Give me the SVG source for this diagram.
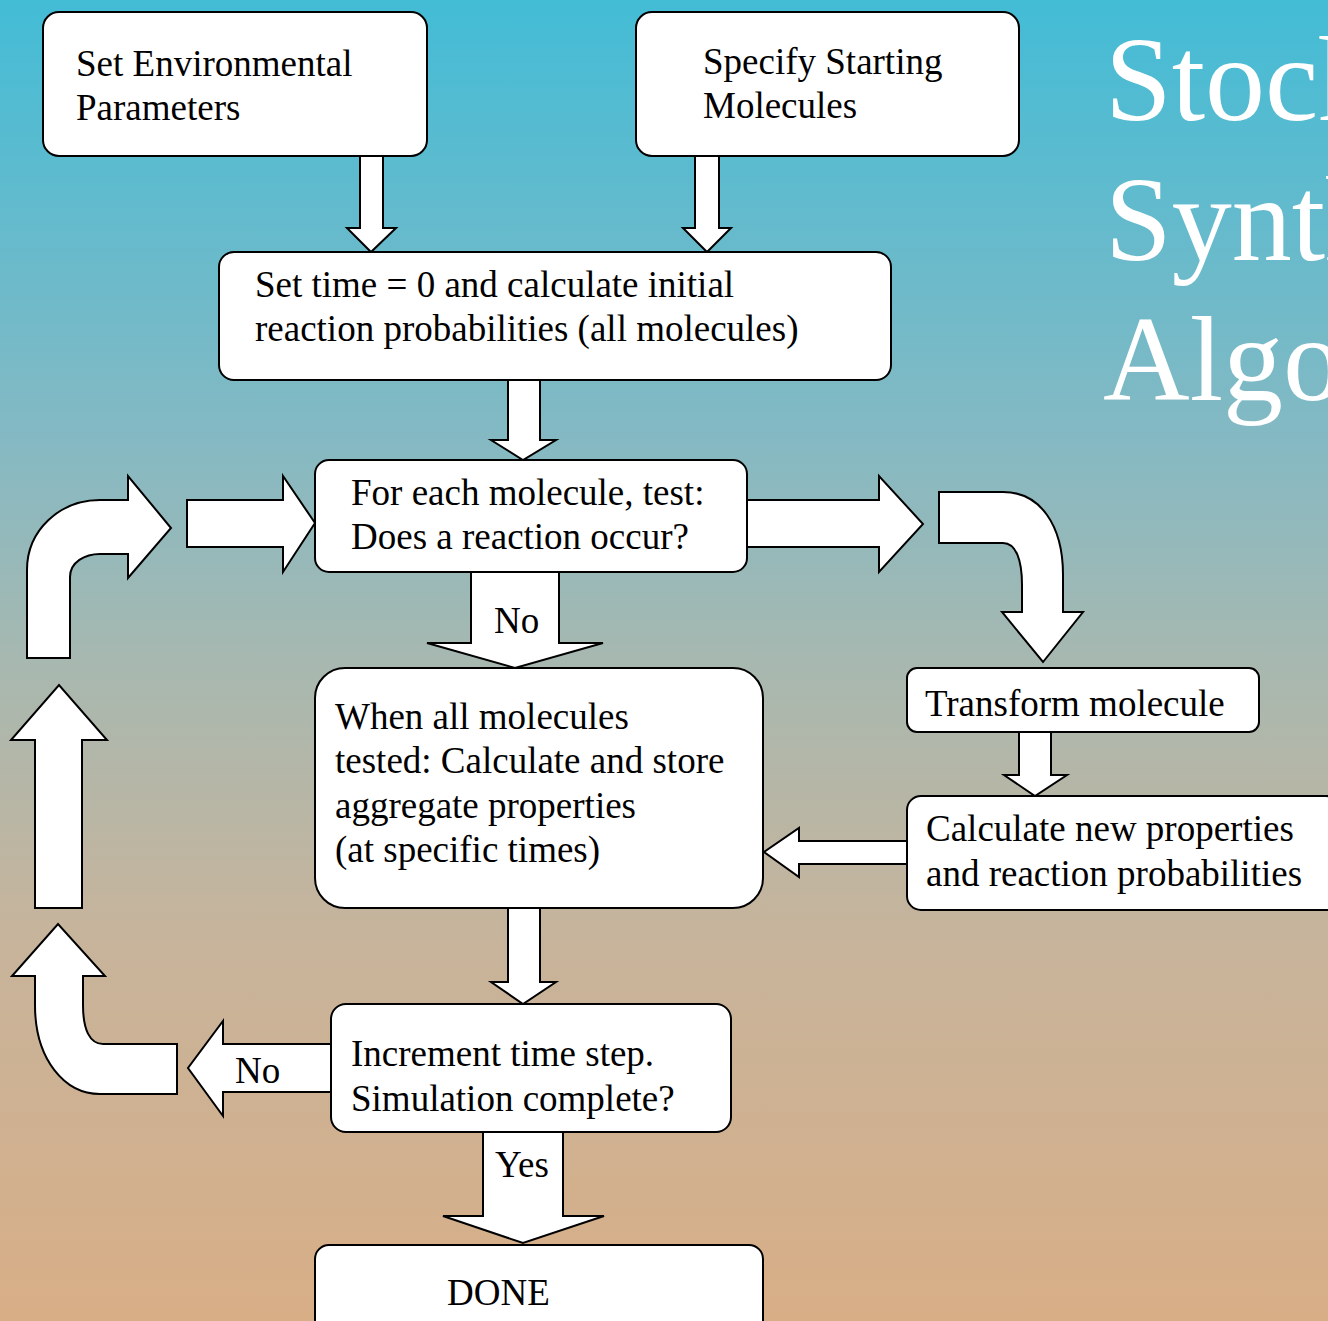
<svg xmlns="http://www.w3.org/2000/svg" width="1328" height="1321" viewBox="0 0 1328 1321">
<defs>
<linearGradient id="bg" x1="0" y1="0" x2="0" y2="1">
<stop offset="0" stop-color="#43BCD6"/>
<stop offset="0.33" stop-color="#84B9C3"/>
<stop offset="0.5" stop-color="#A7B8B0"/>
<stop offset="0.7" stop-color="#C6B49C"/>
<stop offset="1" stop-color="#D8AE86"/>
</linearGradient>
<style>
.box{fill:#fff;stroke:#000;stroke-width:2}
.arr{fill:#fff;stroke:#000;stroke-width:2;stroke-linejoin:miter}
.t{font-family:"Liberation Serif","Times New Roman",serif;font-size:37px;fill:#000}
.title{font-family:"Liberation Serif","Times New Roman",serif;font-size:120px;fill:#fff}
</style>
</defs>
<rect x="0" y="0" width="1328" height="1321" fill="url(#bg)"/>
<g id="title">
<text class="title" x="1105" y="120">Stochastic</text>
<text class="title" x="1105" y="260">Synthesis</text>
<text class="title" x="1103" y="400">Algorithm</text>
</g>
<g id="connectors">
<path class="arr" d="M360,156 L360,228 L347,228 L371,252 L396,228 L383,228 L383,156 Z"/>
<path class="arr" d="M695,156 L695,228 L683,228 L707,252 L731,228 L719,228 L719,156 Z"/>
<path class="arr" d="M508,380 L508,440 L491,440 L523,460 L556,440 L540,440 L540,380 Z"/>
<path class="arr" d="M27,658 L27,570 C27,530 60,500 100,500 L128,500 L128,476 L171,528 L128,578 L128,554 L100,554 C85,554 70,562 70,577 L70,658 Z"/>
<path class="arr" d="M187,500 L283,500 L283,476 L315,523 L283,572 L283,547 L187,547 Z"/>
<path class="arr" d="M747,500 L879,500 L879,476 L923,524 L879,572 L879,547 L747,547 Z"/>
<path class="arr" d="M939,492 L1003,492 C1040,492 1063,525 1063,575 L1063,612 L1083,612 L1043,662 L1002,612 L1022,612 L1022,585 C1022,560 1016,543 1003,543 L939,543 Z"/>
<path class="arr" d="M471,572 L471,643 L427,643 L515,668 L603,643 L559,643 L559,572 Z"/>
<path class="arr" d="M1019,732 L1019,775 L1004,775 L1035,796 L1067,775 L1051,775 L1051,732 Z"/>
<path class="arr" d="M907,841 L799,841 L799,828 L764,852 L799,877 L799,864 L907,864 Z"/>
<path class="arr" d="M508,908 L508,982 L491,982 L523,1004 L556,982 L540,982 L540,908 Z"/>
<path class="arr" d="M331,1044 L223,1044 L223,1021 L188,1068 L223,1116 L223,1092 L331,1092 Z"/>
<path class="arr" d="M177,1044 L103,1044 C90,1044 83,1030 83,1005 L83,976 L105,976 L58,924 L12,976 L35,976 L35,1005 C35,1060 65,1094 100,1094 L177,1094 Z"/>
<path class="arr" d="M35,908 L35,740 L11,740 L59,685 L107,740 L82,740 L82,908 Z"/>
<path class="arr" d="M483,1132 L483,1216 L443,1216 L523,1243 L604,1216 L563,1216 L563,1132 Z"/>
<text class="t" x="494" y="633">No</text>
<text class="t" x="235" y="1083">No</text>
<text class="t" x="495" y="1177">Yes</text>
</g>
<g id="node-env">
<rect class="box" x="43" y="12" width="384" height="144" rx="16"/>
<text class="t" x="76" y="76">Set Environmental</text>
<text class="t" x="76" y="120">Parameters</text>
</g>
<g id="node-start">
<rect class="box" x="636" y="12" width="383" height="144" rx="16"/>
<text class="t" x="703" y="74">Specify Starting</text>
<text class="t" x="703" y="118">Molecules</text>
</g>
<g id="node-init">
<rect class="box" x="219" y="252" width="672" height="128" rx="15"/>
<text class="t" x="255" y="297">Set time = 0 and calculate initial</text>
<text class="t" x="255" y="341">reaction probabilities (all molecules)</text>
</g>
<g id="node-test">
<rect class="box" x="315" y="460" width="432" height="112" rx="14"/>
<text class="t" x="351" y="505">For each molecule, test:</text>
<text class="t" x="351" y="549">Does a reaction occur?</text>
</g>
<g id="node-aggregate">
<rect class="box" x="315" y="668" width="448" height="240" rx="30"/>
<text class="t" x="335" y="729">When all molecules</text>
<text class="t" x="335" y="773">tested: Calculate and store</text>
<text class="t" x="335" y="818">aggregate properties</text>
<text class="t" x="335" y="862">(at specific times)</text>
</g>
<g id="node-transform">
<rect class="box" x="907" y="668" width="352" height="64" rx="10"/>
<text class="t" x="925" y="716">Transform molecule</text>
</g>
<g id="node-calc">
<rect class="box" x="907" y="796" width="433" height="114" rx="14"/>
<text class="t" x="926" y="841">Calculate new properties</text>
<text class="t" x="926" y="886">and reaction probabilities</text>
</g>
<g id="node-increment">
<rect class="box" x="331" y="1004" width="400" height="128" rx="15"/>
<text class="t" x="351" y="1066">Increment time step.</text>
<text class="t" x="351" y="1111">Simulation complete?</text>
</g>
<g id="node-done">
<rect class="box" x="315" y="1245" width="448" height="100" rx="14"/>
<text class="t" x="447" y="1305">DONE</text>
</g>
</svg>
